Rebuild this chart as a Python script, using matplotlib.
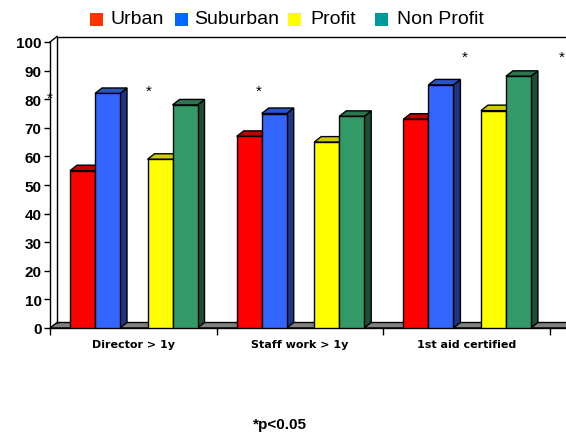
import matplotlib
matplotlib.use("Agg")
import matplotlib.pyplot as plt
from matplotlib.patches import Polygon, Rectangle

# ---- data -------------------------------------------------------------
categories = ["Director > 1y", "Staff work > 1y", "1st aid certified"]
series_names = ["Urban", "Suburban", "Profit", "Non Profit"]
urban = [55, 67, 73]
suburban = [82, 75, 85]
profit = [59, 65, 76]
non_profit = [78, 74, 88]
yticks = list(range(0, 101, 10))
# significance markers (category-slot units, value units)
star_x = [0.0, 0.59, 1.25, 2.49, 3.07]
star_y = [80.5, 83, 83, 95, 95]
footnote = "*p<0.05"

# ---- styling ----------------------------------------------------------
plt.rcParams['font.family'] = ['Liberation Sans', 'DejaVu Sans']
legend_colors = ["#FF3300", "#0066FF", "#FFFF00", "#009999"]
front_colors = ["#FF0000", "#3366FF", "#FFFF00", "#339966"]
top_colors = ["#C00000", "#2A52CC", "#CCCC00", "#2A7550"]
side_colors = ["#800000", "#1F3580", "#808000", "#1E4D36"]
bar_offsets = [0.12, 0.27, 0.585, 0.735]
bar_width = 0.15
n_slots = 4  # axis runs on past the right edge of the figure

W, H = 566, 435
fig = plt.figure(figsize=(W / 100, H / 100), dpi=100)
slot_px = 166.7
ax_w, ax_h = slot_px * n_slots, 286
ax = fig.add_axes([50 / W, (H - 329) / H, ax_w / W, ax_h / H])
ax.set_xlim(0, n_slots)
ax.set_ylim(0, 100)

# depth of the pseudo-3D extrusion, in pixels -> data units
DX, DY = 7, 5.5
ddx = DX / slot_px
ddy = DY / ax_h * 100

# floor
floor = Polygon([(0, 0), (n_slots, 0), (n_slots + ddx, ddy), (ddx, ddy)],
                closed=True, facecolor="#808080", edgecolor="black",
                lw=1, zorder=1, clip_on=False)
ax.add_patch(floor)

# back and side wall edges
wall_kw = dict(color="black", lw=1, clip_on=False, zorder=1.5)
ax.plot([ddx, ddx], [ddy, 100 + ddy], **wall_kw)
ax.plot([0, ddx], [100, 100 + ddy], **wall_kw)
ax.plot([ddx, n_slots + ddx], [100 + ddy, 100 + ddy], **wall_kw)

# bars
values = [urban, suburban, profit, non_profit]
for j, vals in enumerate(values):
    xs = [i + bar_offsets[j] for i in range(len(vals))]
    z = 2 + j
    for x0, v in zip(xs, vals):
        x1 = x0 + bar_width
        side = Polygon([(x1, 0), (x1 + ddx, ddy), (x1 + ddx, v + ddy), (x1, v)],
                       closed=True, facecolor=side_colors[j], edgecolor="black",
                       lw=1, zorder=z, clip_on=False)
        top = Polygon([(x0, v), (x1, v), (x1 + ddx, v + ddy), (x0 + ddx, v + ddy)],
                      closed=True, facecolor=top_colors[j], edgecolor="black",
                      lw=1, zorder=z, clip_on=False)
        ax.add_patch(side)
        ax.add_patch(top)
    ax.bar(xs, vals, width=bar_width, align="edge", color=front_colors[j],
           edgecolor="black", linewidth=1, zorder=z + 0.5)

# axes styling
for s in ["top", "right"]:
    ax.spines[s].set_visible(False)
for s in ["left", "bottom"]:
    ax.spines[s].set_linewidth(1)
    ax.spines[s].set_zorder(1.6)
ax.patch.set_alpha(0)

ax.set_yticks(yticks)
ax.set_yticklabels([str(t) for t in yticks], fontsize=11, fontweight="bold")
ax.tick_params(axis="y", direction="out", length=4, width=1, pad=2)

ax.set_xticks(range(n_slots + 1))
ax.set_xticklabels([])
ax.tick_params(axis="x", which="major", direction="out", length=5, width=1)
ax.set_xticks([i + 0.5 for i in range(len(categories))], minor=True)
ax.set_xticklabels(categories, minor=True, fontsize=8, fontweight="bold",
                   family="DejaVu Sans")
ax.tick_params(axis="x", which="minor", length=0, pad=8)

# significance stars
for sx, sy in zip(star_x, star_y):
    ax.text(sx, sy, "*", ha="center", va="center", fontsize=11,
            clip_on=False, zorder=10)

# legend
legend_sq_x = [90, 175, 288, 375]
legend_txt_x = [111, 194, 310, 397]
for name, col, sqx, tx in zip(series_names, legend_colors, legend_sq_x, legend_txt_x):
    fig.patches.append(Rectangle((sqx / W, (H - 27) / H), 13 / W, 13 / H,
                                 transform=fig.transFigure, facecolor=col,
                                 edgecolor="none"))
    fig.text(tx / W, (H - 20) / H, name, fontsize=14, va="center", ha="left")

fig.text(280 / W, (H - 425) / H, footnote, fontsize=11, fontweight="bold",
         ha="center", va="center")

fig.savefig("out.png", dpi=100)
